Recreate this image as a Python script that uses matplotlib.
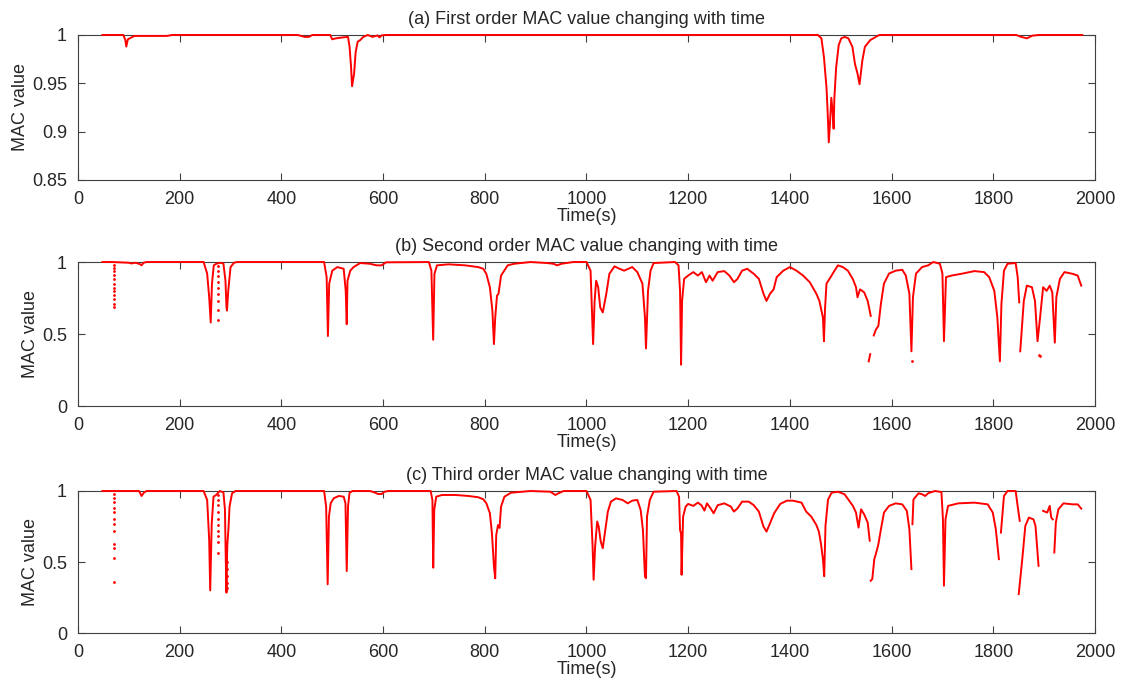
import numpy as np
import matplotlib
matplotlib.use("Agg")
import matplotlib.pyplot as plt

nan = np.nan

# (a) first order MAC
t_a = [48, 89, 93, 95, 98, 111, 175, 185, 432, 446, 454, 461, 496, 500, 507, 521,
       531, 534, 537, 539, 543, 546, 550, 555, 561, 570, 579, 589, 593, 597, 605,
       1455, 1462, 1467, 1472, 1474.5, 1476.5, 1479, 1481.5, 1484, 1486, 1487.5,
       1491, 1496, 1501, 1508, 1515, 1523, 1528, 1533, 1537, 1539, 1542.5, 1547.5,
       1558, 1569, 1576, 1845, 1855, 1866, 1877, 1890, 1975]
v_a = [1.0, 1.0, 0.995, 0.988, 0.9955, 0.999, 0.999, 1.0, 1.0, 0.998, 0.998, 1.0,
       1.0, 0.9955, 0.9965, 0.9975, 0.998, 0.988, 0.967, 0.947, 0.96, 0.982, 0.993,
       0.9947, 0.998, 1.0, 0.998, 0.9995, 0.9975, 0.9995, 1.0,
       1.0, 0.9965, 0.977, 0.9455, 0.9174, 0.889, 0.910, 0.935, 0.921, 0.903, 0.935,
       0.9666, 0.9895, 0.9965, 0.998, 0.9965, 0.9877, 0.970, 0.96, 0.949, 0.958,
       0.9736, 0.9877, 0.9947, 0.998, 1.0, 1.0, 0.998, 0.9965, 0.9993, 1.0, 1.0]

# (b) second order MAC (nan = gap in the trace)
t_b = [48, 68, 100, 105, 112, 118, 122, 125, 129, 135, 247, 254, 258, 261, 263.5,
       267, 272, 280, 286, 290, 292, 293, 295.5, 300, 307, 313, 484, 489, 491.5,
       494, 500, 510, 522.5, 526.5, 528.5, 530, 535.5, 542, 555, 574, 587, 597,
       606, 690, 695, 698.5, 701, 706, 729, 761, 787, 797, 803, 810, 815, 818,
       820.5, 824, 827, 832, 845, 858, 890, 922, 935, 942, 951, 974, 1000, 1008,
       1013, 1016, 1019, 1023, 1027, 1032, 1039, 1045, 1055, 1065, 1074, 1090,
       1100, 1110, 1115, 1117, 1121, 1126, 1132, 1174, 1181, 1184, 1186, 1188,
       1192, 1200, 1210, 1219, 1227, 1235, 1242, 1248, 1258, 1271, 1281, 1290,
       1297, 1306, 1316, 1329, 1339, 1348, 1354, 1361, 1368, 1374, 1387, 1400,
       1413, 1426, 1439, 1452, 1458, 1465, 1467, 1469, 1472, 1482, 1486, 1494.5,
       1504, 1514, 1524, 1530, 1533, 1538, 1546, 1553, 1559, nan, 1555, 1558, nan,
       1565, 1569, 1574, 1579, 1585, 1595, 1608, 1621, 1628, 1635, 1639, 1642,
       1648, 1660, 1672, 1682, 1695, 1700, 1703, 1707, 1718, 1737, 1763, 1782,
       1792, 1802, 1808, 1813, 1816, 1821, 1828, 1844, 1848, 1851, nan, 1853,
       1860, 1866, 1876, 1882, 1887, 1892, 1898, 1905, 1911, 1916, 1921, 1924,
       1931, 1940, 1956, 1966, 1973]
v_b = [1.0, 1.0, 0.995, 0.99, 0.995, 0.99, 0.985, 0.977, 0.995, 1.0, 1.0, 0.92,
       0.756, 0.58, 0.85, 0.977, 0.988, 0.995, 0.99, 0.87, 0.686, 0.663, 0.80,
       0.965, 0.995, 1.0, 1.0, 0.895, 0.486, 0.85, 0.94, 0.965, 0.953, 0.80,
       0.568, 0.87, 0.94, 0.965, 0.993, 0.988, 0.977, 0.977, 0.998, 1.0, 0.94,
       0.46, 0.918, 0.977, 0.984, 0.977, 0.965, 0.953, 0.918, 0.825, 0.66, 0.43,
       0.614, 0.766, 0.78, 0.906, 0.977, 0.988, 1.0, 0.993, 0.988, 0.977, 0.988,
       1.0, 1.0, 0.94, 0.43, 0.73, 0.87, 0.825, 0.685, 0.65, 0.78, 0.918, 0.97,
       0.953, 0.94, 0.965, 0.93, 0.85, 0.614, 0.40, 0.80, 0.94, 0.993, 1.0, 0.977,
       0.80, 0.287, 0.73, 0.883, 0.906, 0.93, 0.906, 0.93, 0.86, 0.906, 0.87,
       0.93, 0.937, 0.906, 0.86, 0.883, 0.94, 0.953, 0.918, 0.883, 0.78, 0.73,
       0.78, 0.81, 0.895, 0.94, 0.965, 0.94, 0.906, 0.86, 0.78, 0.73, 0.614, 0.45,
       0.67, 0.85, 0.906, 0.93, 0.977, 0.965, 0.94, 0.88, 0.825, 0.755, 0.81,
       0.79, 0.73, 0.626, nan, 0.31, 0.36, nan, 0.49, 0.53, 0.556, 0.71, 0.85,
       0.92, 0.94, 0.946, 0.906, 0.78, 0.38, 0.755, 0.92, 0.965, 0.977, 1.0,
       0.988, 0.92, 0.45, 0.895, 0.906, 0.918, 0.937, 0.93, 0.895, 0.80, 0.614,
       0.31, 0.708, 0.94, 0.988, 0.993, 0.895, 0.72, nan, 0.38, 0.73, 0.836,
       0.825, 0.73, 0.45, 0.614, 0.825, 0.80, 0.836, 0.79, 0.44, 0.755, 0.883,
       0.93, 0.918, 0.906, 0.836]
# isolated samples drawn as dots
dots_b_t = [71] * 12 + [275] * 9 + [1641, 1890, 1891]
dots_b_v = [0.98, 0.96, 0.94, 0.91, 0.88, 0.85, 0.82, 0.80, 0.77, 0.74, 0.71, 0.69,
            0.97, 0.94, 0.90, 0.86, 0.82, 0.78, 0.73, 0.67, 0.60,
            0.31, 0.357, 0.35]

# (c) third order MAC
t_c = [48, 68, 120, 125, 130, 135, 247, 254, 258, 260, 263, 266.5, 271, 279, 286,
       289, 290.5, 292, 293.5, 296, 298, 303, 310, 484, 488, 491, 493.5, 497, 503,
       513, 522.5, 526, 528.5, 531, 534, 540, 574, 581, 590, 597, 603, 610, 693.5,
       697, 698.6, 700.6, 704.5, 716, 742, 767.6, 787, 797, 803, 810, 814, 818,
       820.5, 822.5, 826, 829, 832, 838.6, 851.5, 890, 929, 938.6, 945, 955, 1000,
       1008, 1012, 1014, 1017, 1021, 1024, 1028, 1032, 1037, 1042, 1048, 1058,
       1071, 1081, 1090, 1100, 1106.5, 1111, 1115, 1117, 1119, 1124.5, 1132, 1177,
       1182, 1184, 1186, 1187, 1190, 1195, 1200, 1210, 1219, 1226, 1232, 1237,
       1244, 1250, 1258, 1271, 1284, 1290, 1297, 1306, 1319, 1329, 1339, 1348,
       1354, 1361, 1369, 1381, 1394, 1406, 1423, 1432, 1442, 1452, 1457, 1461,
       1465, 1467.5, 1470, 1475, 1482, 1494.5, 1507.5, 1517, 1524, 1530, 1535,
       1540, 1546, 1553, 1557, nan, 1559, 1562, 1566, 1569, 1574, 1579, 1585,
       1595, 1608, 1621, 1630, 1635, 1639, nan, 1641, 1643, 1653, 1660, 1666,
       1672, 1685, 1698, 1701, 1703, 1706, 1711, 1731, 1763, 1789, 1799, 1805,
       1811, nan, 1815, 1821, 1828, 1844, 1847, 1852, nan, 1850, 1857, 1863, 1870,
       1879, 1883, 1889, nan, 1898, 1906, 1911, 1914, 1917, nan, 1920, 1923, 1928,
       1938, 1956, 1966, 1973]
v_c = [1.0, 1.0, 1.0, 0.965, 0.99, 1.0, 1.0, 0.937, 0.656, 0.30, 0.77, 0.96, 0.97,
       1.0, 0.99, 0.87, 0.54, 0.284, 0.61, 0.74, 0.89, 0.984, 1.0, 1.0, 0.89, 0.343,
       0.82, 0.914, 0.949, 0.965, 0.96, 0.914, 0.436, 0.89, 0.988, 1.0, 1.0, 0.993,
       0.979, 0.979, 0.995, 1.0, 1.0, 0.937, 0.46, 0.867, 0.96, 0.972, 0.972,
       0.965, 0.956, 0.942, 0.914, 0.844, 0.704, 0.47, 0.385, 0.69, 0.76, 0.74,
       0.89, 0.96, 0.988, 1.0, 0.995, 0.972, 0.984, 1.0, 1.0, 0.937, 0.61, 0.375,
       0.61, 0.785, 0.75, 0.644, 0.597, 0.726, 0.855, 0.925, 0.948, 0.937, 0.913,
       0.932, 0.937, 0.867, 0.726, 0.398, 0.386, 0.82, 0.937, 0.995, 1.0, 0.96,
       0.726, 0.70, 0.41, 0.82, 0.89, 0.909, 0.895, 0.918, 0.90, 0.862, 0.913,
       0.878, 0.843, 0.90, 0.913, 0.89, 0.855, 0.878, 0.925, 0.925, 0.90, 0.855,
       0.75, 0.714, 0.773, 0.843, 0.909, 0.932, 0.932, 0.918, 0.855, 0.82, 0.761,
       0.714, 0.632, 0.52, 0.40, 0.754, 0.94, 0.988, 0.995, 0.977, 0.93, 0.895,
       0.848, 0.742, 0.871, 0.836, 0.778, 0.65, nan, 0.368, 0.38, 0.52, 0.555,
       0.625, 0.73, 0.848, 0.895, 0.913, 0.906, 0.86, 0.73, 0.45, nan, 0.766,
       0.94, 0.984, 0.977, 0.965, 0.984, 1.0, 0.993, 0.80, 0.333, 0.80, 0.895,
       0.913, 0.918, 0.906, 0.848, 0.73, 0.52, nan, 0.707, 0.965, 1.0, 1.0, 0.918,
       0.79, nan, 0.274, 0.52, 0.754, 0.813, 0.80, 0.754, 0.473, nan, 0.86, 0.848,
       0.895, 0.813, 0.80, nan, 0.567, 0.778, 0.871, 0.913, 0.906, 0.906, 0.876]
dots_c_t = [71] * 12 + [275] * 10 + [294] * 5
dots_c_v = [0.98, 0.95, 0.92, 0.88, 0.85, 0.80, 0.77, 0.72, 0.63, 0.60, 0.527, 0.356,
            0.97, 0.94, 0.90, 0.85, 0.80, 0.76, 0.72, 0.68, 0.64, 0.56,
            0.50, 0.45, 0.40, 0.35, 0.32]

titles = ["(a) First order MAC value changing with time",
          "(b) Second order MAC value changing with time",
          "(c) Third order MAC value changing with time"]
yticks_a = [0.85, 0.9, 0.95, 1]
yticklabels_a = ["0.85", "0.9", "0.95", "1"]
yticks_bc = [0, 0.5, 1]
yticklabels_bc = ["0", "0.5", "1"]
xticks = list(range(0, 2001, 200))

plt.rcParams['font.family'] = ['Liberation Sans', 'DejaVu Sans']
txt = '#262626'
axc = '#404040'

fig = plt.figure(figsize=(11.32, 6.87), dpi=100)
boxes = [[0.0689, 0.7380, 0.8984, 0.2111],
         [0.0689, 0.4090, 0.8984, 0.2096],
         [0.0689, 0.0786, 0.8984, 0.2067]]
series = [(t_a, v_a, [], []), (t_b, v_b, dots_b_t, dots_b_v), (t_c, v_c, dots_c_t, dots_c_v)]

for i, (box, (t, v, dt, dv)) in enumerate(zip(boxes, series)):
    ax = fig.add_axes(box)
    ax.plot(t, v, color='#ff0000', lw=1.4, clip_on=False, zorder=5)
    if dt:
        ax.plot(dt, dv, ls='none', marker='.', ms=2, color='#ff0000', zorder=5)
    ax.set_xlim(0, 2000)
    ax.set_xticks(xticks)
    if i == 0:
        ax.set_ylim(0.85, 1)
        ax.set_yticks(yticks_a)
        ax.set_yticklabels(yticklabels_a)
    else:
        ax.set_ylim(0, 1)
        ax.set_yticks(yticks_bc)
        ax.set_yticklabels(yticklabels_bc)
    ax.tick_params(direction='in', top=True, right=True, length=5, width=0.8,
                   colors=axc, labelcolor=txt, labelsize=13, pad=8)
    for s in ax.spines.values():
        s.set_color(axc)
        s.set_linewidth(0.8)
    ax.set_title(titles[i], fontsize=13, color=txt, pad=8)
    ax.set_xlabel("Time(s)", fontsize=13, color=txt, labelpad=0)
    ax.set_ylabel("MAC value", fontsize=13, color=txt, labelpad=2)

fig.savefig("out.png", dpi=100)
